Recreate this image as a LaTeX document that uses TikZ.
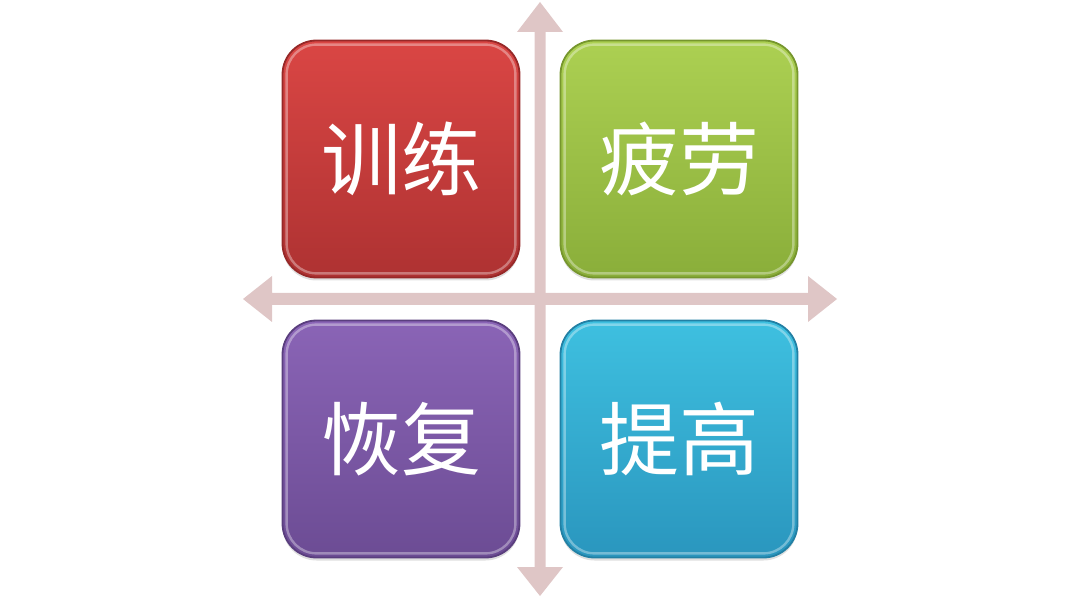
\documentclass[tikz,border=0pt]{standalone}
\usepackage{fontspec}
\newfontfamily\cjk{Noto Sans CJK SC}
\usetikzlibrary{shadows}
\definecolor{arrowc}{RGB}{223,198,198}
\definecolor{redT}{RGB}{218,70,68}
\definecolor{redB}{RGB}{174,50,50}
\definecolor{redE}{RGB}{150,40,40}
\definecolor{grnT}{RGB}{172,208,82}
\definecolor{grnB}{RGB}{138,174,58}
\definecolor{grnE}{RGB}{118,150,45}
\definecolor{purT}{RGB}{138,100,182}
\definecolor{purB}{RGB}{108,76,148}
\definecolor{purE}{RGB}{90,62,126}
\definecolor{bluT}{RGB}{62,192,224}
\definecolor{bluB}{RGB}{42,150,190}
\definecolor{bluE}{RGB}{34,128,164}
\tikzset{
  tile/.style={rounded corners=17pt, minimum width=118.5pt, minimum height=118.5pt,
    inner sep=0pt, line width=0.9pt, text=white,
    font=\cjk\fontsize{40}{48}\selectfont,
    drop shadow={opacity=0.25, shadow xshift=0pt, shadow yshift=-1.5pt}},
  bevel/.style={rounded corners=15pt, line width=1.2pt, draw=white, draw opacity=0.35},
  axis/.style={fill=arrowc, draw=none}
}
\begin{document}
\begin{tikzpicture}[x=0.5pt,y=-0.5pt]
\useasboundingbox (0,0) rectangle (1080,598);
% vertical double arrow
\fill[axis] (540,2) -- (563,32) -- (545.5,32) -- (545.5,567) -- (563,567) -- (540,596)
  -- (517,567) -- (534.5,567) -- (534.5,32) -- (517,32) -- cycle;
% horizontal double arrow
\fill[axis] (243,299) -- (272,276) -- (272,293) -- (808,293) -- (808,276) -- (837,299)
  -- (808,322) -- (808,305) -- (272,305) -- (272,322) -- cycle;
% tiles
\node[tile, top color=redT, bottom color=redB, draw=redE] (train) at (401,159) {训练};
\node[tile, top color=grnT, bottom color=grnB, draw=grnE] (fatigue) at (679,159) {疲劳};
\node[tile, top color=purT, bottom color=purB, draw=purE] (recover) at (401,439) {恢复};
\node[tile, top color=bluT, bottom color=bluB, draw=bluE] (improve) at (679,439) {提高};
% bevel highlights
\foreach \n in {train,fatigue,recover,improve}{
  \draw[bevel] ([xshift=2.5pt,yshift=-2.5pt]\n.north west) rectangle ([xshift=-2.5pt,yshift=2.5pt]\n.south east);
}
\end{tikzpicture}
\end{document}
